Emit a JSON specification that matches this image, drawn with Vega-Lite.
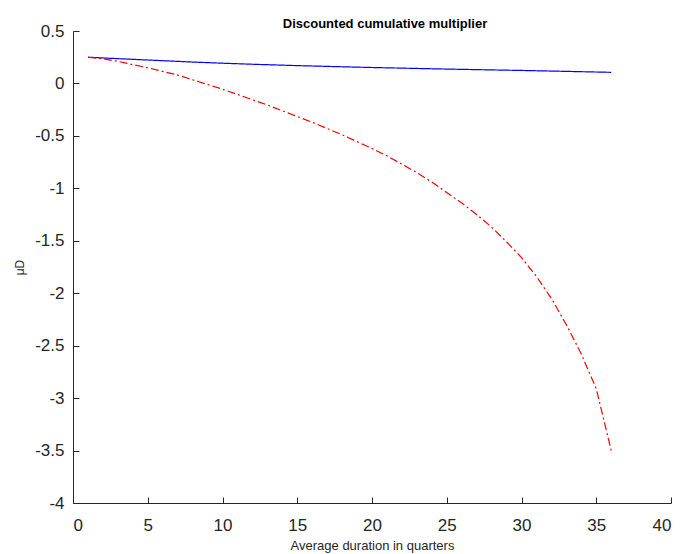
{
  "$schema": "https://vega.github.io/schema/vega-lite/v6.json",
  "width": 598,
  "height": 472,
  "autosize": "none",
  "padding": {"left": 73, "top": 31, "right": 12, "bottom": 51},
  "background": "white",
  "title": {
    "text": "Discounted cumulative multiplier",
    "font": "Liberation Sans",
    "fontSize": 13,
    "fontWeight": "bold",
    "color": "#000000",
    "anchor": "middle",
    "offset": -9,
    "dx": 13
  },
  "config": {
    "view": {"stroke": null},
    "axis": {
      "grid": false,
      "domainColor": "#262626",
      "tickColor": "#262626",
      "labelColor": "#262626",
      "titleColor": "#262626",
      "labelFont": "Liberation Sans",
      "titleFont": "Liberation Sans",
      "labelFontSize": 17,
      "titleFontWeight": "normal",
      "tickSize": -6,
      "domainWidth": 1,
      "tickWidth": 1
    }
  },
  "data": {
    "values": [
      {"series": "a", "x": 1, "y": 0.25},
      {"series": "a", "x": 2, "y": 0.243},
      {"series": "a", "x": 4, "y": 0.23},
      {"series": "a", "x": 6, "y": 0.217},
      {"series": "a", "x": 8, "y": 0.204},
      {"series": "a", "x": 10, "y": 0.193},
      {"series": "a", "x": 12, "y": 0.183},
      {"series": "a", "x": 15, "y": 0.17},
      {"series": "a", "x": 18, "y": 0.159},
      {"series": "a", "x": 20, "y": 0.152},
      {"series": "a", "x": 22, "y": 0.146},
      {"series": "a", "x": 25, "y": 0.137},
      {"series": "a", "x": 28, "y": 0.129},
      {"series": "a", "x": 30, "y": 0.124},
      {"series": "a", "x": 32, "y": 0.118},
      {"series": "a", "x": 34, "y": 0.112},
      {"series": "a", "x": 36, "y": 0.106},
      {"series": "b", "x": 1, "y": 0.25},
      {"series": "b", "x": 2, "y": 0.235},
      {"series": "b", "x": 3, "y": 0.21},
      {"series": "b", "x": 4, "y": 0.18},
      {"series": "b", "x": 5, "y": 0.15},
      {"series": "b", "x": 6, "y": 0.115},
      {"series": "b", "x": 7, "y": 0.08},
      {"series": "b", "x": 8, "y": 0.035},
      {"series": "b", "x": 9, "y": -0.01},
      {"series": "b", "x": 10, "y": -0.055},
      {"series": "b", "x": 11, "y": -0.105},
      {"series": "b", "x": 12, "y": -0.155},
      {"series": "b", "x": 13, "y": -0.205},
      {"series": "b", "x": 14, "y": -0.26},
      {"series": "b", "x": 15, "y": -0.315},
      {"series": "b", "x": 16, "y": -0.37},
      {"series": "b", "x": 17, "y": -0.43},
      {"series": "b", "x": 18, "y": -0.49},
      {"series": "b", "x": 19, "y": -0.555},
      {"series": "b", "x": 20, "y": -0.62},
      {"series": "b", "x": 21, "y": -0.69},
      {"series": "b", "x": 22, "y": -0.77},
      {"series": "b", "x": 23, "y": -0.85},
      {"series": "b", "x": 24, "y": -0.94},
      {"series": "b", "x": 25, "y": -1.04},
      {"series": "b", "x": 26, "y": -1.14},
      {"series": "b", "x": 27, "y": -1.25},
      {"series": "b", "x": 28, "y": -1.37},
      {"series": "b", "x": 29, "y": -1.51},
      {"series": "b", "x": 30, "y": -1.66},
      {"series": "b", "x": 31, "y": -1.84},
      {"series": "b", "x": 32, "y": -2.05},
      {"series": "b", "x": 33, "y": -2.3},
      {"series": "b", "x": 34, "y": -2.58},
      {"series": "b", "x": 35, "y": -2.91},
      {"series": "b", "x": 36, "y": -3.5}
    ]
  },
  "mark": {"type": "line", "strokeWidth": 1.2},
  "encoding": {
    "x": {
      "field": "x",
      "type": "quantitative",
      "scale": {"domain": [0, 40], "nice": false, "zero": false},
      "axis": {
        "title": "Average duration in quarters",
        "titleFontSize": 13,
        "values": [0, 5, 10, 15, 20, 25, 30, 35, 40],
        "labelPadding": 20,
        "titlePadding": 6,
        "labelExpr": "'' + datum.value"
      }
    },
    "y": {
      "field": "y",
      "type": "quantitative",
      "scale": {"domain": [-4, 0.5], "nice": false, "zero": false},
      "axis": {
        "title": "μD",
        "titleFontSize": 12,
        "values": [-4, -3.5, -3, -2.5, -2, -1.5, -1, -0.5, 0, 0.5],
        "labelPadding": 15,
        "titlePadding": 8,
        "labelExpr": "'' + datum.value"
      }
    },
    "color": {
      "field": "series",
      "type": "nominal",
      "scale": {"domain": ["a", "b"], "range": ["#0000ff", "#ff0000"]},
      "legend": null
    },
    "strokeDash": {
      "field": "series",
      "type": "nominal",
      "scale": {"domain": ["a", "b"], "range": [[1, 0], [8, 3, 2, 3]]},
      "legend": null
    }
  }
}
